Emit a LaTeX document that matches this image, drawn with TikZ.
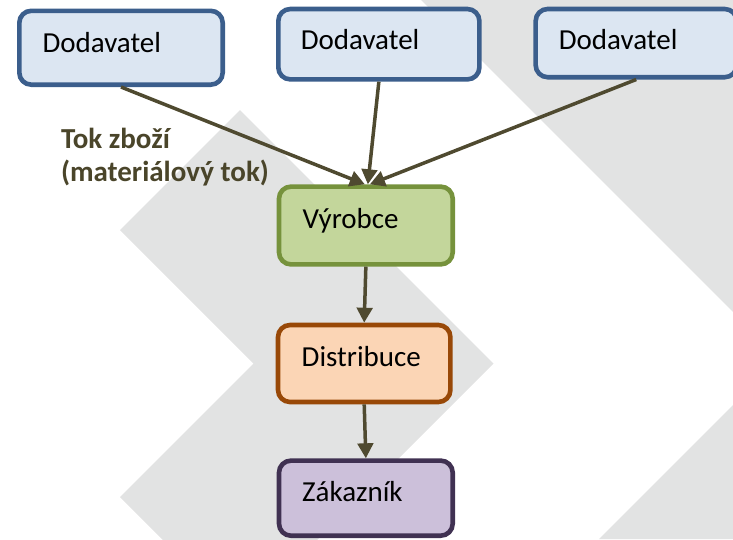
\documentclass[tikz,border=0pt]{standalone}
\usepackage{fontspec}
\setmainfont{Carlito}
\usetikzlibrary{arrows.meta,calc}
\definecolor{bgray}{HTML}{E2E3E3}
\definecolor{bluef}{HTML}{DCE6F2}
\definecolor{blueb}{HTML}{3B5E8C}
\definecolor{greenf}{HTML}{C3D69B}
\definecolor{greenb}{HTML}{76923C}
\definecolor{orangef}{HTML}{FBD5B5}
\definecolor{orangeb}{HTML}{984807}
\definecolor{purplef}{HTML}{CCC0DA}
\definecolor{purpleb}{HTML}{403152}
\definecolor{arrowc}{HTML}{4F4A30}
\definecolor{labelc}{HTML}{4A452A}
\begin{document}
\begin{tikzpicture}[x=1pt,y=-1pt,
  box/.style={draw, line width=4.6pt, rounded corners=12pt, inner sep=0pt, outer sep=2.3pt},
  txt/.style={anchor=base west, inner sep=0pt, outer sep=0pt, font=\fontsize{29}{35}\selectfont, text=black},
  lbl/.style={anchor=base west, inner sep=0pt, outer sep=0pt, font=\fontsize{29}{35}\selectfont\bfseries, text=labelc},
  flow/.style={draw=arrowc, line width=3.5pt, -{Triangle[length=15pt,width=15.5pt]}},
  chev/.style={fill=bgray, draw=none}
]
\useasboundingbox (0,0) rectangle (733,539);
\begin{scope}
\clip (0,0) rectangle (733,539);
% background chevrons
\fill[chev] (240,110) -- (493.5,363.5) -- (240,617) -- (120,497) -- (253.5,363.5) -- (120,230) -- cycle;
\fill[chev] (421,0) -- (779.5,358.5) -- (599,539) -- (780,539) -- (780,0) -- cycle;
% boxes
\node[box, draw=blueb, fill=bluef, minimum width=203.4pt, minimum height=73.9pt] (d1) at (121,47.75) {};
\node[box, draw=blueb, fill=bluef, minimum width=201.1pt, minimum height=70.4pt] (d2) at (378.85,44.2) {};
\node[box, draw=blueb, fill=bluef, minimum width=201.1pt, minimum height=68.2pt] (d3) at (636.2,43.1) {};
\node[box, draw=greenb, fill=greenf, minimum width=173.7pt, minimum height=77.8pt] (v) at (365.85,225.5) {};
\node[box, draw=orangeb, fill=orangef, minimum width=172.4pt, minimum height=77pt] (di) at (364.2,363.5) {};
\node[box, draw=purpleb, fill=purplef, minimum width=173.7pt, minimum height=75.1pt] (z) at (365.85,498.15) {};
% texts
\node[txt] (d1t) at ($(d1.north west)+(25.5,43.8)$) {Dodavatel};
\node[txt] (d2t) at ($(d2.north west)+(24.8,42.6)$) {Dodavatel};
\node[txt] (d3t) at ($(d3.north west)+(25.5,42.6)$) {Dodavatel};
\node[txt] (vt) at ($(v.north west)+(26,44)$) {Výrobce};
\node[txt] (dit) at ($(di.north west)+(26,43.3)$) {Distribuce};
\node[txt] (zt) at ($(z.north west)+(25.5,43.4)$) {Zákazník};
% label
\node[lbl] (l1) at (61,148.3) {Tok zboží};
\node[lbl] (l2) at (61,181.7) {(materiálový tok)};
% connectors
\draw[flow] (d1.south) -- ($(v.north)+(-1,0)$);
\draw[flow] (d2.south) -- ($(v.north)+(2,0)$);
\draw[flow] (d3.south) -- ($(v.north)+(4,0)$);
\draw[flow] (v.south) -- (di.north);
\draw[flow] (di.south) -- (z.north);
\end{scope}
\end{tikzpicture}
\end{document}
